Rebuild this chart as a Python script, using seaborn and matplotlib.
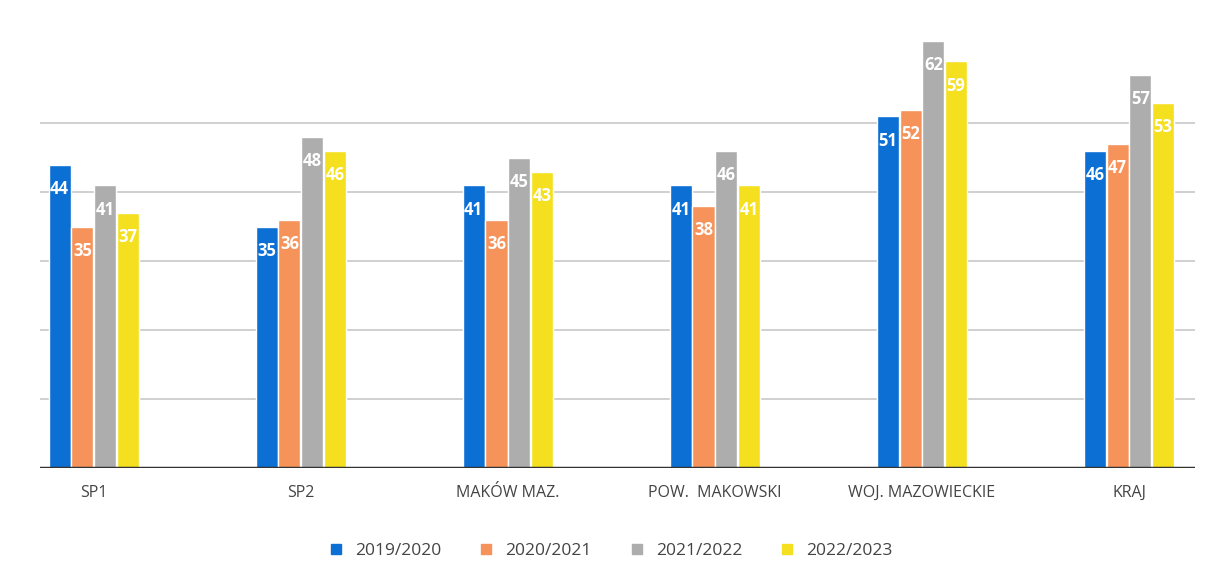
import matplotlib
matplotlib.use("Agg")
import matplotlib.pyplot as plt
import seaborn as sns
import pandas as pd

categories = ["SP1", "SP2", "MAKÓW MAZ.", "POW.  MAKOWSKI", "WOJ. MAZOWIECKIE", "KRAJ"]
years = ["2019/2020", "2020/2021", "2021/2022", "2022/2023"]
v_2019 = [44, 35, 41, 41, 51, 46]
v_2020 = [35, 36, 36, 38, 52, 47]
v_2021 = [41, 48, 45, 46, 62, 57]
v_2022 = [37, 46, 43, 41, 59, 53]

colors = ["#0b6fd4", "#f6935a", "#adadad", "#f5e020"]

rows = []
for year, vals in zip(years, [v_2019, v_2020, v_2021, v_2022]):
    for cat, v in zip(categories, vals):
        rows.append({"cat": cat, "year": year, "value": v})
df = pd.DataFrame(rows)

sns.set_style("white")
plt.rcParams["font.family"] = ["Open Sans", "DejaVu Sans"]

fig = plt.figure(figsize=(12.11, 5.85), dpi=100)
ax = fig.add_axes([0.033, 0.2, 0.954, 0.766])

sns.barplot(data=df, x="cat", y="value", hue="year", palette=colors,
            width=0.44, gap=0.03, saturation=1, ax=ax, legend=False)

for cont in ax.containers:
    ax.bar_label(cont, padding=-24, color="white", fontweight="bold", fontsize=12)

ax.set_xlim(-0.26, 5.32)
ax.set_ylim(0, 65)
for g in [10, 20, 30, 40, 50]:
    ax.axhline(g, color="#c8c8c8", lw=1.2, zorder=0)
ax.axhline(0, color="#333333", lw=2.5, zorder=3)
ax.set_yticks([])
ax.set_xlabel("")
ax.set_ylabel("")
ax.tick_params(axis="x", length=0, labelsize=11.5, labelcolor="#444444", pad=12)
for s in ax.spines.values():
    s.set_visible(False)

handles = [plt.Line2D([], [], marker="s", ls="", color=c, markersize=7) for c in colors]
fig.legend(handles, years, loc="center", bbox_to_anchor=(0.5, 0.058), ncol=4,
           frameon=False, fontsize=12.5, handletextpad=0.1, columnspacing=1.6,
           labelcolor="#444444")

fig.savefig("out.png", dpi=100, facecolor="white")
